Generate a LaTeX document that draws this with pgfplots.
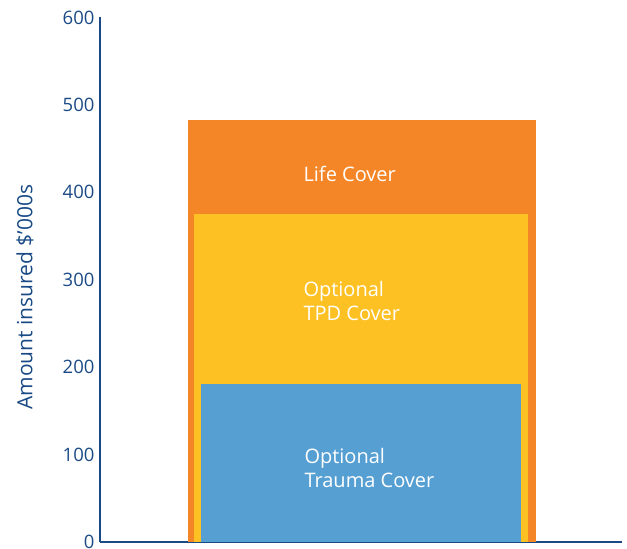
\documentclass[border=0pt]{standalone}
\usepackage{pgfplots}
\pgfplotsset{compat=1.18}
\usepackage{fontspec}
\setmainfont{Open Sans}
\definecolor{navy}{HTML}{1A4A85}
\definecolor{lifeor}{HTML}{F58627}
\definecolor{tpdyel}{HTML}{FEC124}
\definecolor{trablu}{HTML}{569FD3}
\begin{document}
\begin{tikzpicture}[x=1pt,y=1pt]
\path[use as bounding box] (-100,-7) rectangle (527,542);
\begin{axis}[
    at={(0,0)}, anchor=origin,
    scale only axis,
    width=522pt, height=524.5pt,
    xmin=0, xmax=522,
    ymin=0, ymax=600,
    axis lines=left,
    axis line style={navy, line width=2.2pt, -},
    xtick=\empty,
    ytick={0,100,...,600},
    major tick length=0pt,
    yticklabel style={navy, font=\fontsize{18.5}{20}\selectfont, xshift=-2pt},
    /pgf/number format/assume math mode=true,
    ylabel={Amount insured \$’000s},
    ylabel style={navy, font=\fontsize{21}{24}\selectfont,
        at={(axis description cs:-0.1437,0.467)}, anchor=center},
    clip=false,
]
% Life Cover (orange)
\addplot[fill=lifeor, draw=none] coordinates {(88,0) (436,0) (436,483) (88,483)} -- cycle;
% Optional TPD Cover (yellow)
\addplot[fill=tpdyel, draw=none] coordinates {(94,0) (428,0) (428,375) (94,375)} -- cycle;
% Optional Trauma Cover (blue)
\addplot[fill=trablu, draw=none] coordinates {(101,0) (421,0) (421,181) (101,181)} -- cycle;

\node[anchor=west, white, font=\fontsize{20}{24}\selectfont] at (axis cs:200,421) {Life Cover};
\node[anchor=west, align=left, white, font=\fontsize{20}{24}\selectfont] at (axis cs:200,276) {Optional\\TPD Cover};
\node[anchor=west, align=left, white, font=\fontsize{20}{24}\selectfont] at (axis cs:201,85) {Optional\\Trauma Cover};
\end{axis}
\end{tikzpicture}
\end{document}
